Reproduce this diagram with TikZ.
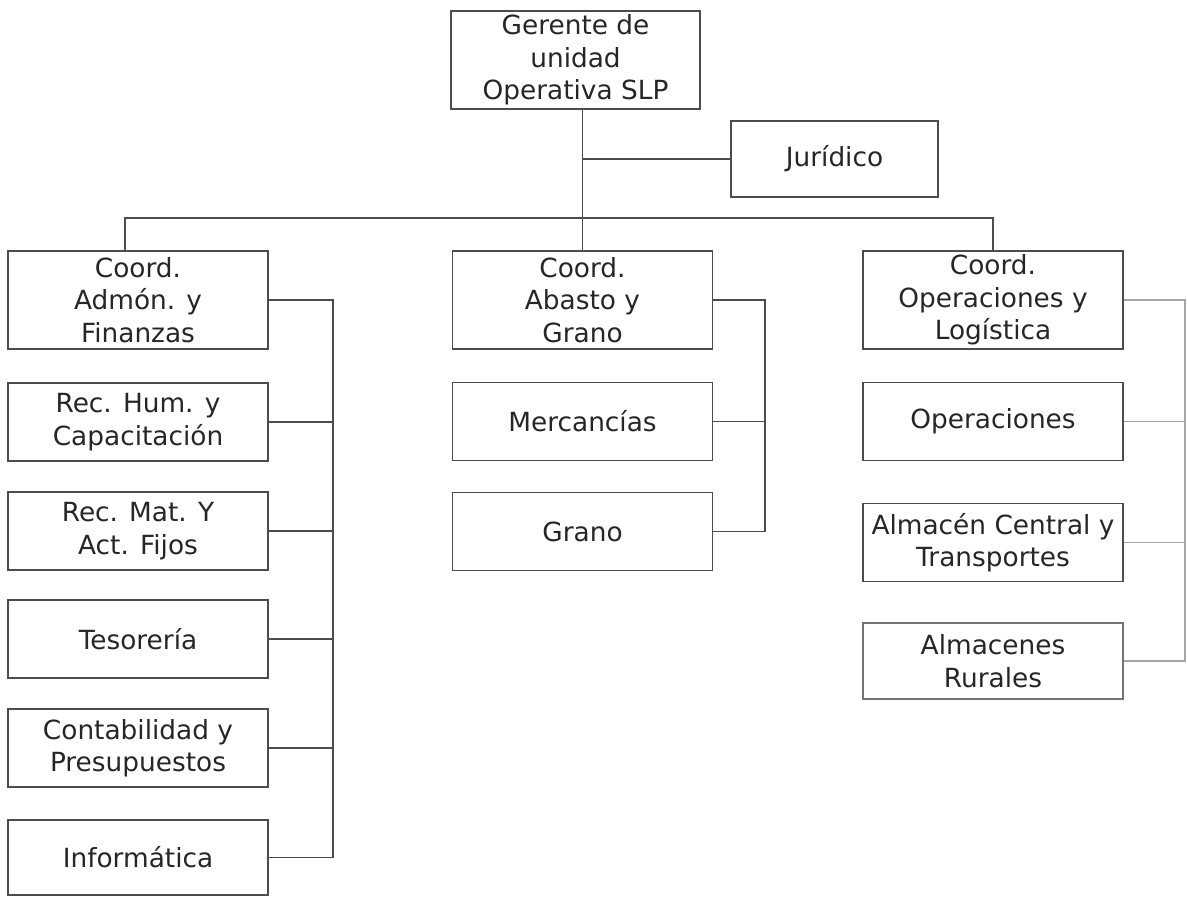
\documentclass[tikz,border=0pt]{standalone}
\usepackage{fontspec}
\setmainfont{DejaVu Sans}
\begin{document}
\begin{tikzpicture}[
    orgbox/.style={rectangle, draw=black!70, line width=0.6pt, minimum width=5.2cm, minimum height=1.56cm, inner sep=0pt, font=\fontsize{15}{18.4}\selectfont, align=center, text=black!85},
    orgline/.style={draw=black!70, line width=0.6pt},
    faintline/.style={draw=black!35, line width=0.6pt},
]
\useasboundingbox (0,0) rectangle (23.74,-17.92);

\node[orgbox, minimum width=4.98cm, minimum height=1.96cm] (ger) at (11.51,-1.2) {Gerente de\\unidad\\Operativa SLP};
\node[orgbox, minimum width=4.14cm, minimum height=1.52cm] (jur) at (16.69,-3.18) {Jurídico};

\node[orgbox, minimum height=1.96cm] (cadm) at (2.76,-6.0) {Coord.\\Admón. y\\Finanzas};
\node[orgbox] (rhum) at (2.76,-8.44) {Rec. Hum. y\\Capacitación};
\node[orgbox] (rmat) at (2.76,-10.62) {Rec. Mat. Y\\Act. Fijos};
\node[orgbox] (teso) at (2.76,-12.78) {Tesorería};
\node[orgbox] (cont) at (2.76,-14.96) {Contabilidad y\\Presupuestos};
\node[orgbox, minimum height=1.5cm] (info) at (2.76,-17.15) {Informática};

\node[orgbox, minimum height=1.96cm] (cabs) at (11.65,-6.0) {Coord.\\Abasto y\\Grano};
\node[orgbox] (merc) at (11.65,-8.43) {Mercancías};
\node[orgbox] (gran) at (11.65,-10.63) {Grano};

\node[orgbox, minimum height=1.96cm] (cope) at (19.86,-6.0) {Coord.\\Operaciones y\\Logística};
\node[orgbox] (oper) at (19.86,-8.43) {Operaciones};
\node[orgbox] (alma) at (19.86,-10.85) {Almacén Central y\\Transportes};
\node[orgbox, draw=black!55, minimum height=1.52cm] (arur) at (19.86,-13.22) {Almacenes\\Rurales};

\coordinate (bus) at (0,-4.36);
\coordinate (lstem) at (2.5,0);
\coordinate (lcol) at (6.66,0);
\coordinate (mcol) at (15.3,0);
\coordinate (rcol) at (23.7,0);

\draw[orgline] (ger.south -| cabs.north) -- (cabs.north);
\draw[orgline] (jur.west) -- (jur.west -| cabs.north);
\draw[orgline] (cadm.north -| lstem) -- (lstem |- bus) -- (cope.north |- bus) -- (cope.north);

\draw[orgline] (cadm.east) -- (cadm.east -| lcol) -- (info.east -| lcol) -- (info.east);
\draw[orgline] (rhum.east) -- (rhum.east -| lcol);
\draw[orgline] (rmat.east) -- (rmat.east -| lcol);
\draw[orgline] (teso.east) -- (teso.east -| lcol);
\draw[orgline] (cont.east) -- (cont.east -| lcol);

\draw[orgline] (cabs.east) -- (cabs.east -| mcol) -- (gran.east -| mcol) -- (gran.east);
\draw[orgline] (merc.east) -- (merc.east -| mcol);

\draw[faintline] (cope.east) -- (cope.east -| rcol) -- (arur.east -| rcol) -- (arur.east);
\draw[faintline] (oper.east) -- (oper.east -| rcol);
\draw[faintline] (alma.east) -- (alma.east -| rcol);
\end{tikzpicture}
\end{document}
